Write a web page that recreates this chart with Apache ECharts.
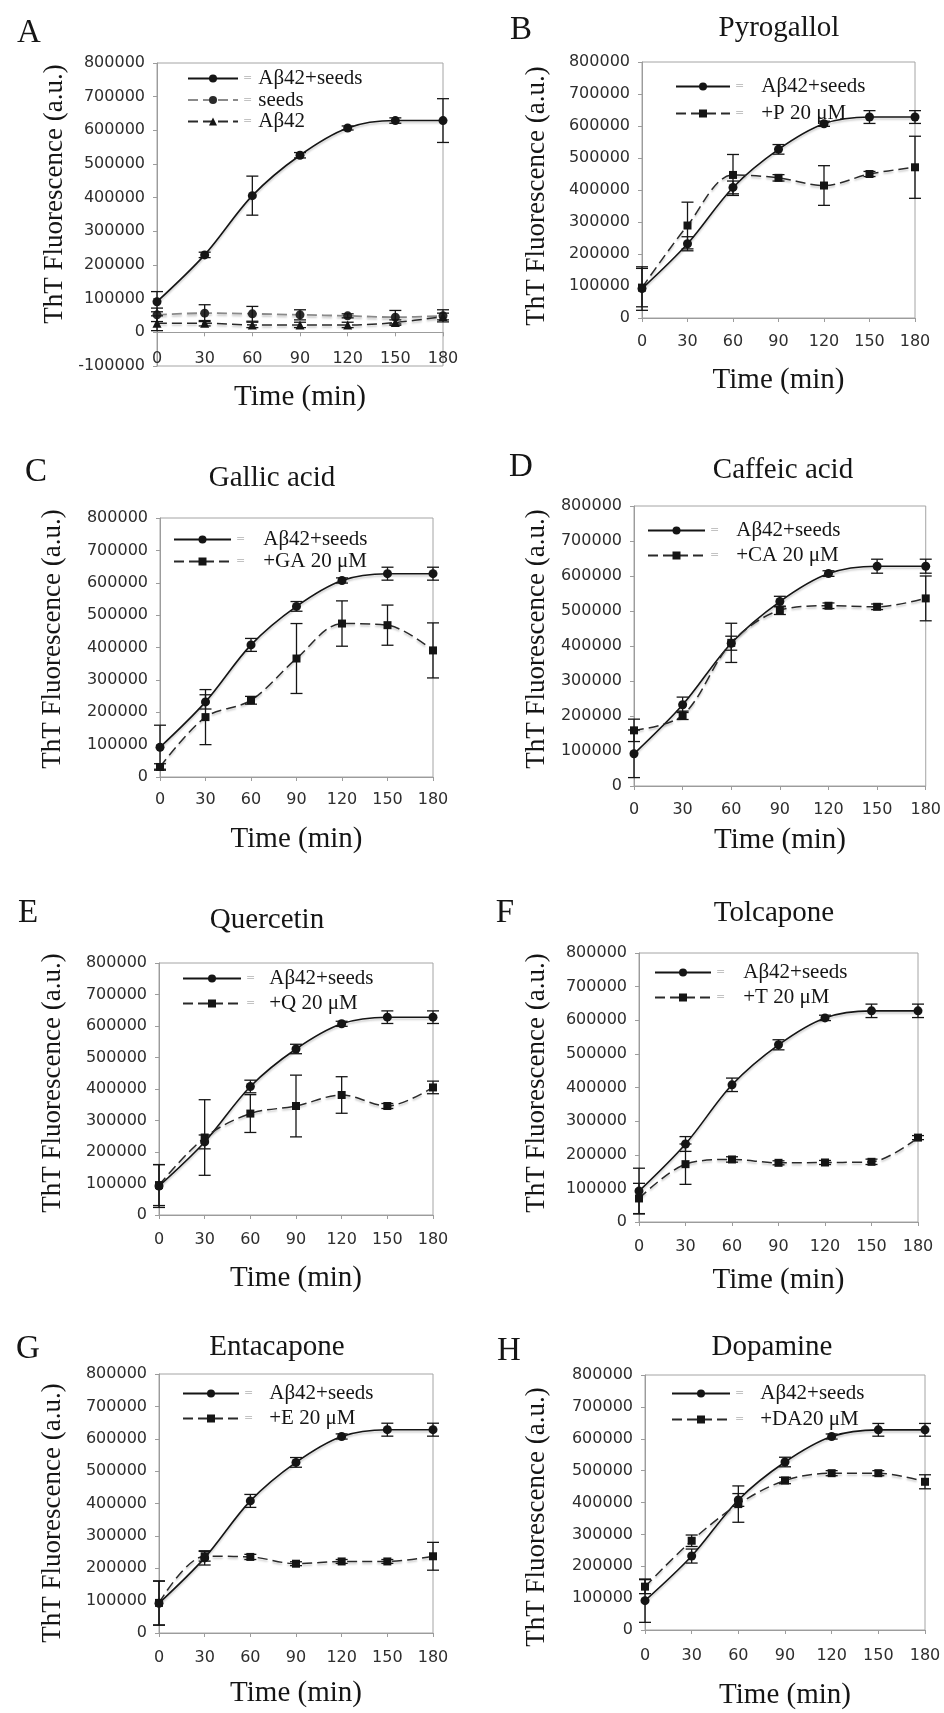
<!DOCTYPE html>
<html>
<head>
<meta charset="utf-8">
<title>ThT fluorescence kinetics</title>
<script src="https://cdn.jsdelivr.net/npm/echarts@6.0.0/dist/echarts.min.js"></script>
<style>
  html, body { margin: 0; padding: 0; background: #fff; }
  #chart { width: 944px; height: 1713px; }
</style>
</head>
<body>
<div id="chart"></div>
<script>
// Sampling times (min)
const time = [0, 30, 60, 90, 120, 150, 180];

// Panel A: controls
const ctrlA = [91000, 230000, 406000, 526000, 607000, 629000, 629000];
const ctrlAErr = [30000, 8000, 58000, 8000, 6000, 8000, 65000];
const seedsA = [52000, 57000, 55000, 52000, 49000, 45000, 49000];
const seedsAErr = [20000, 25000, 22000, 15000, 6000, 20000, 18000];
const abA = [27000, 27000, 22000, 22000, 22000, 29000, 47000];
const abAErr = [22000, 8000, 8000, 8000, 8000, 8000, 10000];

// Aβ42 + seeds reference curve shared by panels B–H
const ctrl = [92000, 232000, 408000, 527000, 607000, 628000, 628000];
const ctrlErr = [68000, 22000, 20000, 15000, 8000, 20000, 20000];

// Treatments, 20 µM each
const pyro = [95000, 289000, 447000, 438000, 414000, 450000, 471000];
const pyroErr = [60000, 73000, 64000, 10000, 62000, 8000, 97000];
const gallic = [31000, 185000, 237000, 366000, 474000, 469000, 391000];
const gallicErr = [10000, 85000, 12000, 108000, 70000, 62000, 85000];
const caffeic = [159000, 202000, 409000, 502000, 515000, 512000, 536000];
const caffeicErr = [32000, 12000, 56000, 12000, 8000, 8000, 64000];
const quercetin = [95000, 246000, 322000, 346000, 381000, 346000, 405000];
const quercetinErr = [65000, 120000, 60000, 98000, 58000, 8000, 20000];
const tolcapone = [70000, 172000, 186000, 176000, 177000, 179000, 251000];
const tolcaponeErr = [45000, 60000, 8000, 6000, 6000, 8000, 6000];
const entacapone = [93000, 237000, 235000, 214000, 221000, 221000, 237000];
const entacaponeErr = [68000, 15000, 8000, 6000, 6000, 6000, 43000];
const dopamine = [136000, 280000, 395000, 469000, 492000, 492000, 465000];
const dopamineErr = [22000, 18000, 57000, 10000, 8000, 8000, 22000];

const CTRL = 'Aβ42+seeds';
const Y_MAX = 800000;

const panels = [
  { letter: 'A', title: null, grid: [157, 63, 286, 303], yMin: -100000, tickGap: 19,
    series: [
      { name: CTRL, data: ctrlA, err: ctrlAErr, kind: 'ctrl' },
      { name: 'seeds', data: seedsA, err: seedsAErr, kind: 'seeds' },
      { name: 'Aβ42', data: abA, err: abAErr, kind: 'ab' }
    ],
    letterPos: [29, 33], titlePos: null, yName: [55, 194], xName: 397,
    legend: { left: 187, top: 68, w: 50, gap: 0.5, pad: 6 } },
  { letter: 'B', title: 'Pyrogallol', grid: [642, 62, 273, 256], yMin: 0, tickGap: 16,
    series: [
      { name: CTRL, data: ctrl, err: ctrlErr, kind: 'ctrl' },
      { name: '+P 20 μM', data: pyro, err: pyroErr, kind: 'drug' }
    ],
    letterPos: [521, 30], titlePos: [779, 28], yName: [537, 196], xName: 380,
    legend: { left: 675, top: 76, w: 54, gap: 6, pad: 17 } },
  { letter: 'C', title: 'Gallic acid', grid: [160, 518, 273, 259], yMin: 0, tickGap: 15,
    series: [
      { name: CTRL, data: ctrl, err: ctrlErr, kind: 'ctrl' },
      { name: '+GA 20 μM', data: gallic, err: gallicErr, kind: 'drug' }
    ],
    letterPos: [36, 472], titlePos: [272, 478], yName: [53, 639], xName: 839,
    legend: { left: 173, top: 529, w: 57, gap: 1, pad: 18 } },
  { letter: 'D', title: 'Caffeic acid', grid: [634, 506, 292, 280], yMin: 0, tickGap: 16,
    series: [
      { name: CTRL, data: ctrl, err: ctrlErr, kind: 'ctrl' },
      { name: '+CA 20 μM', data: caffeic, err: caffeicErr, kind: 'drug' }
    ],
    letterPos: [521, 467], titlePos: [783, 470], yName: [537, 639], xName: 840,
    legend: { left: 647, top: 520, w: 57, gap: 4, pad: 17 } },
  { letter: 'E', title: 'Quercetin', grid: [159, 963, 274, 252], yMin: 0, tickGap: 17,
    series: [
      { name: CTRL, data: ctrl, err: ctrlErr, kind: 'ctrl' },
      { name: '+Q 20 μM', data: quercetin, err: quercetinErr, kind: 'drug' }
    ],
    letterPos: [28, 913], titlePos: [267, 920], yName: [53, 1083], xName: 1278,
    legend: { left: 182, top: 968, w: 58, gap: 4, pad: 14 } },
  { letter: 'F', title: 'Tolcapone', grid: [639, 953, 279, 269], yMin: 0, tickGap: 17,
    series: [
      { name: CTRL, data: ctrl, err: ctrlErr, kind: 'ctrl' },
      { name: '+T 20 μM', data: tolcapone, err: tolcaponeErr, kind: 'drug' }
    ],
    letterPos: [505, 913], titlePos: [774, 913], yName: [537, 1083], xName: 1280,
    legend: { left: 654, top: 962, w: 56, gap: 4, pad: 18 } },
  { letter: 'G', title: 'Entacapone', grid: [159, 1374, 274, 259], yMin: 0, tickGap: 17,
    series: [
      { name: CTRL, data: ctrl, err: ctrlErr, kind: 'ctrl' },
      { name: '+E 20 μM', data: entacapone, err: entacaponeErr, kind: 'drug' }
    ],
    letterPos: [28, 1349], titlePos: [277, 1347], yName: [53, 1513], xName: 1693,
    legend: { left: 182, top: 1383, w: 56, gap: 4, pad: 16 } },
  { letter: 'H', title: 'Dopamine', grid: [645, 1375, 280, 255], yMin: 0, tickGap: 18,
    series: [
      { name: CTRL, data: ctrl, err: ctrlErr, kind: 'ctrl' },
      { name: '+DA20 μM', data: dopamine, err: dopamineErr, kind: 'drug' }
    ],
    letterPos: [509, 1351], titlePos: [772, 1347], yName: [537, 1517], xName: 1695,
    legend: { left: 671, top: 1383, w: 58, gap: 5, pad: 16 } }
];

const SERIF = '"Liberation Serif", "Times New Roman", serif';
const SANS = '"DejaVu Sans", Verdana, sans-serif';
const AXIS_GREY = '#9c9c9c';
const INK = '#151515';

// Vertical error bar with caps, positioned through the grid's own axes
function errorBarItem(params, api) {
  const x = api.value(0), y = api.value(1), e = api.value(2);
  const hi = api.coord([x, y + e]);
  const lo = api.coord([x, y - e]);
  const half = 6;
  const st = () => ({ stroke: INK, lineWidth: 1.3 });
  return {
    type: 'group',
    children: [
      { type: 'line', shape: { x1: hi[0], y1: hi[1], x2: lo[0], y2: lo[1] }, style: st() },
      { type: 'line', shape: { x1: hi[0] - half, y1: hi[1], x2: hi[0] + half, y2: hi[1] }, style: st() },
      { type: 'line', shape: { x1: lo[0] - half, y1: lo[1], x2: lo[0] + half, y2: lo[1] }, style: st() }
    ]
  };
}

function lineLook(kind) {
  const shadow = { shadowColor: 'rgba(0,0,0,0.22)', shadowBlur: 2, shadowOffsetY: 2 };
  const dash = [10, 5];
  if (kind === 'ctrl') return {
    symbol: 'circle', symbolSize: 9,
    itemStyle: { color: INK },
    lineStyle: Object.assign({ color: INK, width: 1.6, type: 'solid' }, shadow)
  };
  if (kind === 'seeds') return {
    symbol: 'circle', symbolSize: 9,
    itemStyle: { color: '#2a2a2a' },
    lineStyle: Object.assign({ color: '#8a8a8a', width: 1.8, type: dash }, shadow)
  };
  if (kind === 'ab') return {
    symbol: 'triangle', symbolSize: 9,
    itemStyle: { color: INK },
    lineStyle: Object.assign({ color: '#2a2a2a', width: 1.5, type: dash }, shadow)
  };
  return {
    symbol: 'rect', symbolSize: 8,
    itemStyle: { color: INK },
    lineStyle: Object.assign({ color: '#2a2a2a', width: 1.5, type: dash }, shadow)
  };
}

const grid = [], xAxis = [], yAxis = [], series = [], legend = [], graphic = [];

panels.forEach((p, i) => {
  const [left, top, width, height] = p.grid;
  grid.push({ left, top, width, height, show: true, borderColor: '#a4a4a4', borderWidth: 1, containLabel: false });

  // The time axis sits on the zero line; when the value range dips below zero
  // it is lifted from the grid bottom by the height of the negative part.
  const lift = height * (0 - p.yMin) / (Y_MAX - p.yMin);
  xAxis.push({
    gridIndex: i, type: 'value', min: 0, max: 180, interval: 30,
    offset: -lift,
    axisLine: { show: true, onZero: false, lineStyle: { color: AXIS_GREY, width: 1 } },
    axisTick: { show: true, length: 4, lineStyle: { color: AXIS_GREY } },
    axisLabel: { margin: p.tickGap, color: '#2e2e2e', fontFamily: SANS, fontSize: 16 },
    splitLine: { show: false }
  });
  yAxis.push({
    gridIndex: i, type: 'value', min: p.yMin, max: Y_MAX, interval: 100000,
    axisLine: { show: true, onZero: false, lineStyle: { color: AXIS_GREY, width: 1 } },
    axisTick: { show: true, length: 4, lineStyle: { color: AXIS_GREY } },
    axisLabel: { margin: 12, color: '#2e2e2e', fontFamily: SANS, fontSize: 16, formatter: v => String(v) },
    splitLine: { show: false }
  });

  p.series.forEach(s => {
    series.push(Object.assign({
      type: 'line', name: s.name, xAxisIndex: i, yAxisIndex: i,
      smooth: 0.33, showSymbol: true, z: 3,
      data: time.map((t, k) => [t, s.data[k]])
    }, lineLook(s.kind)));
  });
  p.series.forEach((s, j) => {
    series.push({
      type: 'custom', name: 'bars-' + p.letter + j, xAxisIndex: i, yAxisIndex: i, z: 4,
      renderItem: errorBarItem, encode: { x: 0, y: 1 },
      data: time.map((t, k) => [t, s.data[k], s.err[k]])
    });
  });

  legend.push({
    orient: 'vertical', left: p.legend.left, top: p.legend.top, padding: 0,
    itemWidth: p.legend.w, itemHeight: 10, itemGap: p.legend.gap,
    selectedMode: false,
    data: p.series.map(s => s.name),
    formatter: name => '{eq|=}{t|' + name + '}',
    textStyle: {
      lineHeight: 18,
      rich: {
        eq: { fontFamily: SANS, fontSize: 11, color: '#c2c2c2', padding: [0, p.legend.pad, 0, 0] },
        t: { fontFamily: SERIF, fontSize: 21, color: INK }
      }
    }
  });

  // Panel letter, compound title, axis titles
  graphic.push({ type: 'text', x: p.letterPos[0], y: p.letterPos[1],
    style: { text: p.letter, font: '33px ' + SERIF, fill: INK, align: 'center', verticalAlign: 'middle' } });
  if (p.title) graphic.push({ type: 'text', x: p.titlePos[0], y: p.titlePos[1],
    style: { text: p.title, font: '29px ' + SERIF, fill: INK, align: 'center', verticalAlign: 'middle' } });
  graphic.push({ type: 'text', x: p.yName[0], y: p.yName[1], rotation: Math.PI / 2,
    style: { text: 'ThT Fluorescence (a.u.)', font: '27px ' + SERIF, fill: INK, align: 'center', verticalAlign: 'middle' } });
  graphic.push({ type: 'text', x: left + width / 2, y: p.xName,
    style: { text: 'Time (min)', font: '29px ' + SERIF, fill: INK, align: 'center', verticalAlign: 'middle' } });
});

const chart = echarts.init(document.getElementById('chart'), null, { renderer: 'canvas' });
chart.setOption({
  animation: false,
  backgroundColor: '#ffffff',
  grid, xAxis, yAxis, series, legend, graphic
});
</script>
</body>
</html>
